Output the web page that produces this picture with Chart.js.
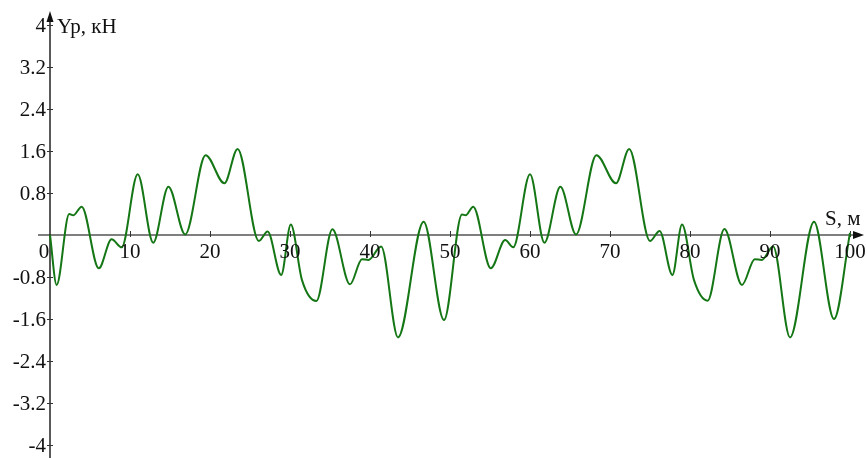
<!DOCTYPE html>
<html>
<head>
<meta charset="utf-8">
<script src="https://cdn.jsdelivr.net/npm/chart.js@4/dist/chart.umd.min.js"></script>
<style>
  html, body { margin: 0; padding: 0; background: #fff; }
  #wrap { width: 867px; height: 458px; }
</style>
</head>
<body>
<div id="wrap"><canvas id="c" width="867" height="458"></canvas></div>
<script>
// Path coordinate S, m (knots of the load curve)
const sValues = [
  0, 0.83, 2.4, 2.9, 3.96, 6.1, 7.7, 8.96, 10.96, 12.9, 14.8, 16.9, 19.45, 21.8, 23.45,
  26.1, 27.2, 28.9, 30.1, 31.5, 33.3, 35.3, 37.5, 39.0, 39.8, 41.4, 43.5, 46.7, 49.25,
  51.5, 51.95, 52.9, 55.1, 56.9, 57.9, 60.0, 61.8, 63.8, 65.75, 68.3, 70.75, 72.4,
  75.0, 76.2, 77.8, 79.0, 80.5, 82.2, 84.3, 86.5, 88.1, 88.96, 90.4, 92.5, 95.5, 98.0, 100
];
// Lateral force Yp, kN
const ypValues = [
  0, -0.95, 0.40, 0.375, 0.54, -0.635, -0.08, -0.235, 1.155, -0.146, 0.92, 0.01, 1.52, 0.985, 1.64,
  -0.115, 0.065, -0.76, 0.2, -0.86, -1.257, 0.108, -0.94, -0.46, -0.476, -0.22, -1.95, 0.254, -1.62,
  0.39, 0.375, 0.54, -0.635, -0.095, -0.235, 1.155, -0.146, 0.92, 0.01, 1.52, 0.985, 1.64,
  -0.115, 0.076, -0.76, 0.2, -0.86, -1.25, 0.114, -0.95, -0.46, -0.476, -0.22, -1.95, 0.254, -1.6, 0.04
];
// Axis ticks
const xTicks = [0, 10, 20, 30, 40, 50, 60, 70, 80, 90, 100];
const yTicks = [4, 3.2, 2.4, 1.6, 0.8, -0.8, -1.6, -2.4, -3.2, -4];
const xTitle = 'S, м';
const yTitle = 'Yp, кН';

const points = sValues.map((s, i) => ({ x: s, y: ypValues[i] }));

const FONT = '21px "Liberation Serif", "Times New Roman", serif';

// Axes through the origin with arrow heads, ticks and labels
const crossAxes = {
  id: 'crossAxes',
  beforeDatasetsDraw(chart) {
    const ctx = chart.ctx;
    const xs = chart.scales.x, ys = chart.scales.y;
    const x0 = xs.getPixelForValue(0), y0 = ys.getPixelForValue(0);
    const xEnd = xs.getPixelForValue(100), yTop = ys.getPixelForValue(4), yBot = ys.getPixelForValue(-4);
    ctx.save();
    // x axis
    ctx.strokeStyle = '#555';
    ctx.lineWidth = 1.5;
    ctx.beginPath();
    ctx.moveTo(x0 - 12, y0);
    ctx.lineTo(xEnd + 10, y0);
    ctx.stroke();
    ctx.fillStyle = '#111';
    ctx.beginPath();
    ctx.moveTo(xEnd + 14, y0);
    ctx.lineTo(xEnd + 3, y0 - 4);
    ctx.lineTo(xEnd + 3, y0 + 4);
    ctx.closePath();
    ctx.fill();
    // y axis
    ctx.strokeStyle = '#222';
    ctx.lineWidth = 1.5;
    ctx.beginPath();
    ctx.moveTo(x0, yBot + 14);
    ctx.lineTo(x0, yTop - 10);
    ctx.stroke();
    ctx.beginPath();
    ctx.moveTo(x0, yTop - 14);
    ctx.lineTo(x0 - 3.5, yTop - 3);
    ctx.lineTo(x0 + 3.5, yTop - 3);
    ctx.closePath();
    ctx.fill();
    // ticks
    ctx.strokeStyle = '#333';
    ctx.lineWidth = 1;
    xTicks.forEach(v => {
      if (v === 0) return;
      const px = Math.round(xs.getPixelForValue(v)) + 0.5;
      ctx.beginPath();
      ctx.moveTo(px, y0 - 4);
      ctx.lineTo(px, y0 + 2);
      ctx.stroke();
    });
    yTicks.forEach(v => {
      const py = Math.round(ys.getPixelForValue(v)) + 0.5;
      ctx.beginPath();
      ctx.moveTo(x0 - 3, py);
      ctx.lineTo(x0 + 3, py);
      ctx.stroke();
    });
    ctx.restore();
  },
  afterDatasetsDraw(chart) {
    const ctx = chart.ctx;
    const xs = chart.scales.x, ys = chart.scales.y;
    const x0 = xs.getPixelForValue(0), y0 = ys.getPixelForValue(0);
    ctx.save();
    ctx.font = FONT;
    ctx.fillStyle = '#111';
    ctx.textBaseline = 'alphabetic';
    ctx.textAlign = 'center';
    xTicks.forEach(v => {
      const px = xs.getPixelForValue(v) + (v === 0 ? -6 : 0);
      ctx.fillText(String(v), px, y0 + 23);
    });
    ctx.textAlign = 'right';
    ctx.textBaseline = 'middle';
    yTicks.forEach(v => {
      ctx.fillText(String(v), x0 - 4, ys.getPixelForValue(v) + 1);
    });
    ctx.textAlign = 'left';
    ctx.textBaseline = 'alphabetic';
    ctx.fillText(yTitle, x0 + 7, ys.getPixelForValue(4) + 8);
    ctx.fillText(xTitle, xs.getPixelForValue(100) - 25, y0 - 10);
    ctx.restore();
  }
};

new Chart(document.getElementById('c'), {
  type: 'scatter',
  data: {
    datasets: [{
      data: points,
      showLine: true,
      borderColor: 'rgb(20,118,20)',
      borderWidth: 2,
      pointRadius: 0,
      cubicInterpolationMode: 'monotone',
      clip: false
    }]
  },
  options: {
    responsive: false,
    animation: false,
    layout: { padding: { left: 50, right: 17, top: 25, bottom: 13 } },
    plugins: { legend: { display: false }, tooltip: { enabled: false } },
    scales: {
      x: { type: 'linear', min: 0, max: 100, display: false },
      y: { type: 'linear', min: -4, max: 4, display: false }
    }
  },
  plugins: [crossAxes]
});
</script>
</body>
</html>
